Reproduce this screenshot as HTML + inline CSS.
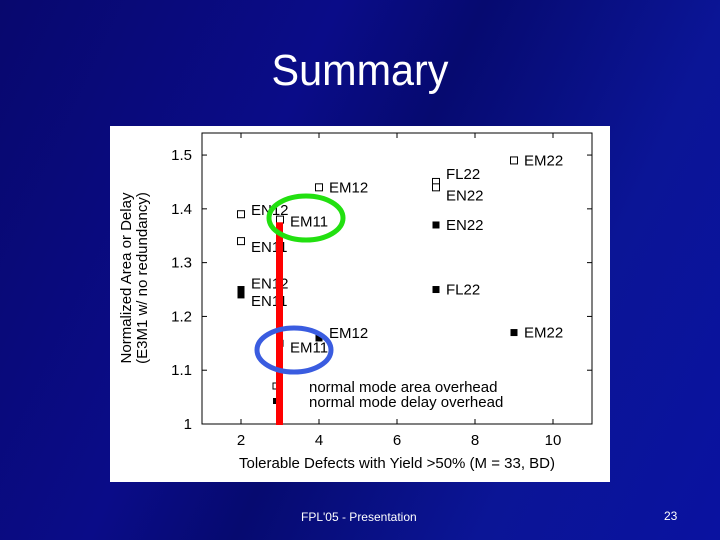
<!DOCTYPE html>
<html><head><meta charset="utf-8"><style>
html,body{margin:0;padding:0}
body{width:720px;height:540px;overflow:hidden;position:relative;font-family:"Liberation Sans",sans-serif;
background:linear-gradient(115deg,#08086e 0%,#0a0c88 35%,#060a70 50%,#0b1596 75%,#0a12a0 100%);}
#title{position:absolute;left:0;width:720px;top:46px;text-align:center;color:#fff;font-size:44px;transform:scaleX(0.94);}
.foot{position:absolute;color:#fff;font-size:12px}
</style></head><body>
<div id="title">Summary</div>
<svg id="chart" width="720" height="540" style="position:absolute;left:0;top:0" xmlns="http://www.w3.org/2000/svg"></svg>
<div class="foot" style="left:301px;top:510px">FPL'05 - Presentation</div>
<div class="foot" style="left:664px;top:509px">23</div>
<script>
const xTicks=[2,4,6,8,10];
const yTicks=[1,1.1,1.2,1.3,1.4,1.5];
const areaX=[2,2,3,4,7,7,9];
const areaY=[1.39,1.34,1.38,1.44,1.45,1.44,1.49];
const areaLabels=["EN12","EN11","EM11","EM12","FL22","EN22","EM22"];
const delayX=[2,2,3,4,7,7,9];
const delayY=[1.25,1.24,1.15,1.16,1.37,1.25,1.17];
const delayLabels=["EN12","EN11","EM11","EM12","EN22","FL22","EM22"];
const areaLabelDy=[-4,6,2,0,-8,8,0];
const delayLabelDy=[-6,6,4,-5,0,0,0];

const NS="http://www.w3.org/2000/svg";
const svg=document.getElementById('chart');
const L=202,R=592,T=133,B=424;
const FS=15;
const xs=v=>L+(v-1)/10*(R-L);
const ys=v=>B-(v-1)/0.541*(B-T);
function mk(tag,a,parent){const e=document.createElementNS(NS,tag);for(const k in a)e.setAttribute(k,a[k]);(parent||svg).appendChild(e);return e;}

let bg=mk('rect',{x:110,y:126,width:500,height:356,fill:'#fff'});


let frame=mk('rect',{x:L,y:T,width:R-L,height:B-T,fill:'none',stroke:'#000','stroke-width':1});



xTicks.forEach(v=>{
  const x=xs(v);
  mk('line',{x1:x,y1:B,x2:x,y2:B-5,stroke:'#000'});mk('line',{x1:x,y1:T,x2:x,y2:T+5,stroke:'#000'});
  const t=mk('text',{x:x,y:B+21,'text-anchor':'middle','font-size':FS,fill:'#000'});t.textContent=v;
  
  
});
yTicks.forEach(v=>{
  const y=ys(v);
  mk('line',{x1:L,y1:y,x2:L+5,y2:y,stroke:'#000'});mk('line',{x1:R,y1:y,x2:R-5,y2:y,stroke:'#000'});
  const t=mk('text',{x:L-10,y:y+5,'text-anchor':'end','font-size':FS,fill:'#000'});t.textContent=(v===1?'1':v.toFixed(1));
  
  
});
let xt=mk('text',{x:397,y:468,'text-anchor':'middle','font-size':FS,fill:'#000'});
xt.textContent='Tolerable Defects with Yield >50% (M = 33, BD)';


let yt=mk('text',{transform:'translate(131,278) rotate(-90)','text-anchor':'middle','font-size':FS,fill:'#000'});
yt.textContent='Normalized Area or Delay';


let yt2=mk('text',{transform:'translate(147,278) rotate(-90)','text-anchor':'middle','font-size':FS,fill:'#000'});
yt2.textContent='(E3M1 w/ no redundancy)';



areaX.forEach((xv,i)=>{
  const x=xs(xv),y=ys(areaY[i]);
  const r=mk('rect',{x:x-3.5,y:y-3.5,width:7,height:7,fill:'#fff',stroke:'#000','stroke-width':1});
  
  
  const t=mk('text',{x:x+10,y:y+5+areaLabelDy[i],'font-size':FS,fill:'#000'});t.textContent=areaLabels[i];
  
  
});
delayX.forEach((xv,i)=>{
  const x=xs(xv),y=ys(delayY[i]);
  const r=mk('rect',{x:x-3.5,y:y-3.5,width:7,height:7,fill:'#000'});
  
  
  const t=mk('text',{x:x+10,y:y+5+delayLabelDy[i],'font-size':FS,fill:'#000'});t.textContent=delayLabels[i];
  
  
});

let lm1=mk('rect',{x:273,y:383,width:6,height:6,fill:'#fff',stroke:'#000'});


let lt1=mk('text',{x:309,y:392,'font-size':FS,fill:'#000'});lt1.textContent='normal mode area overhead';


let lm2=mk('rect',{x:273,y:398,width:6,height:6,fill:'#000'});


let lt2=mk('text',{x:309,y:407,'font-size':FS,fill:'#000'});lt2.textContent='normal mode delay overhead';



let red=mk('rect',{x:276,y:ys(1.375),width:7,height:B-ys(1.375)+1,fill:'#f00'});


let g=mk('ellipse',{cx:306,cy:218,rx:37,ry:22,fill:'none',stroke:'#22e010','stroke-width':5});


let b=mk('ellipse',{cx:294,cy:350,rx:37,ry:22,fill:'none',stroke:'#3a5ce0','stroke-width':5});


</script>
</body></html>
